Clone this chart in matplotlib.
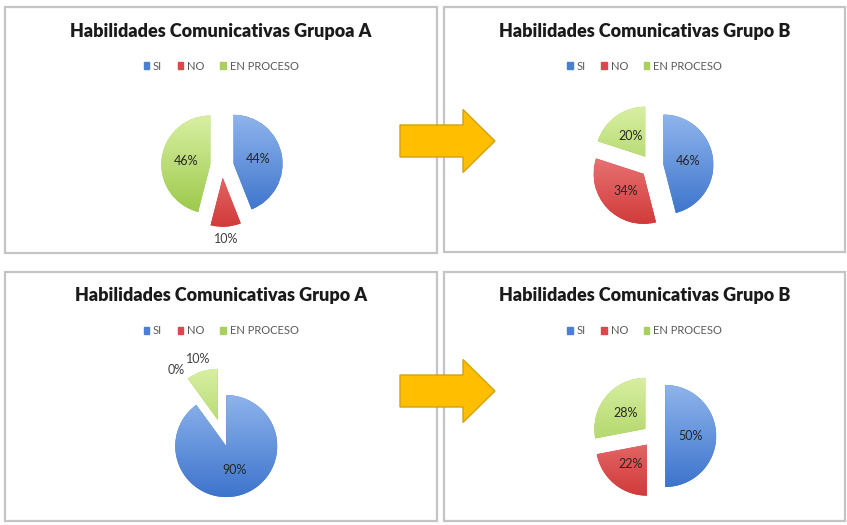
import numpy as np
import matplotlib.pyplot as plt
from matplotlib.patches import Rectangle, FancyArrow
from matplotlib.colors import LinearSegmentedColormap

W, H = 847, 525

categories = ['SI', 'NO', 'EN PROCESO']
titles = ['Habilidades Comunicativas Grupoa A', 'Habilidades Comunicativas Grupo B',
          'Habilidades Comunicativas Grupo A', 'Habilidades Comunicativas Grupo B']
values_a1 = [44, 10, 46]
values_b1 = [46, 34, 20]
values_a2 = [90, 0, 10]
values_b2 = [50, 22, 28]

# panel boxes (left, top, right, bottom) in pixels from the top-left corner
boxes = [(5, 7, 437, 253), (444, 7, 845, 252), (5, 272, 437, 521), (444, 272, 845, 521)]
# pie centre, radius, explode (fraction of radius)
pies = [((222, 166), 49, 0.24), ((652, 166), 50, 0.23),
        ((222, 433), 51, 0.27), ((654, 436), 51, 0.22)]

# light/dark stops for the shaded slices
shades = {
    'SI': ('#8fb4ec', '#3d74cc'),
    'NO': ('#f28f8f', '#d23a3a'),
    'EN PROCESO': ('#d8efa2', '#9cc94a'),
}
legend_colors = {'SI': '#4a7fd4', 'NO': '#d9484a', 'EN PROCESO': '#a8d05a'}

plt.rcParams['font.family'] = ['Lato', 'DejaVu Sans']

fig = plt.figure(figsize=(W / 100, H / 100), dpi=100)
ax = fig.add_axes([0, 0, 1, 1])


def fy(y):
    return H - y


def shaded_pie(values, centre, radius, explode):
    cx, cy = centre
    # pie's explode offset is in data units, here pixels
    wedges, _ = ax.pie(values, center=(cx, fy(cy)), radius=radius,
                       explode=[explode * radius] * len(values), startangle=90,
                       counterclock=False, frame=True,
                       wedgeprops=dict(linewidth=0))
    grad = np.linspace(0, 1, 256).reshape(-1, 1)
    for w, cat, v in zip(wedges, categories, values):
        light, dark = shades[cat]
        w.set_facecolor(dark)
        wx, wy = w.center
        if v > 0:
            cmap = LinearSegmentedColormap.from_list(cat, [light, dark])
            im = ax.imshow(grad, cmap=cmap, origin='upper', aspect='auto',
                           extent=(wx - radius, wx + radius, wy - radius, wy + radius),
                           zorder=w.get_zorder() + 0.1)
            im.set_clip_path(w)
        # percentage label from the wedge geometry
        mid = np.deg2rad((w.theta1 + w.theta2) / 2)
        d = 0.5 if v > 10 else 1.25
        ax.text(wx + d * radius * np.cos(mid), wy + d * radius * np.sin(mid),
                f'{v}%', ha='center', va='center', fontsize=9,
                color='#262626' if v > 10 else '#404040', zorder=5)
    return wedges


for (x0, y0, x1, y1), title, vals, (c, r, e) in zip(
        boxes, titles, [values_a1, values_b1, values_a2, values_b2], pies):
    ax.add_patch(Rectangle((x0, fy(y1)), x1 - x0, y1 - y0, facecolor='white',
                           edgecolor='#c4c4c4', linewidth=1.6, zorder=0))
    shaded_pie(vals, c, r, e)
    xm = (x0 + x1) / 2
    ax.text(xm, fy(y0 + 24), title, ha='center', va='center', fontsize=13,
            fontweight='heavy', color='#1a1a1a', zorder=5)
    handles = [Rectangle((0, 0), 1, 1, color=legend_colors[k]) for k in categories]
    fig.legend(handles, categories, loc='center', ncol=3, frameon=False,
               bbox_to_anchor=(xm / W, 1 - (y0 + 59) / H), fontsize=8,
               handlelength=0.5, handleheight=0.5, handletextpad=0.35,
               columnspacing=1.4, labelcolor='#595959')

# arrows between the groups
for yc in (141, 391):
    ax.add_patch(FancyArrow(400, fy(yc), 95, 0, width=32, head_width=63,
                            head_length=32, length_includes_head=True,
                            facecolor='#ffbf00', edgecolor='#d4a017',
                            linewidth=1.0, zorder=6))

ax.set_xlim(0, W)
ax.set_ylim(0, H)
ax.set_aspect('auto')
ax.axis('off')

fig.savefig('out.png', dpi=100)
